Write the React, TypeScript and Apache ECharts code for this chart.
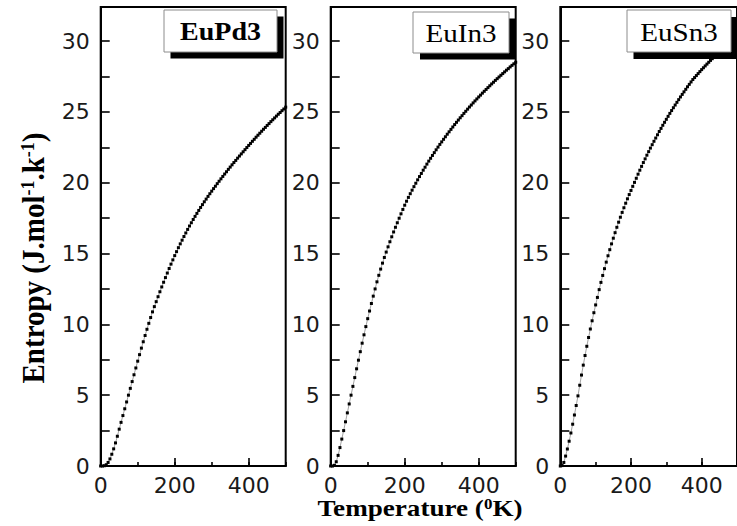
import React, { useEffect, useRef } from "react";
import * as echarts from "echarts";

const temperatures = [
  0, 5, 10, 15, 20, 25, 30, 35, 40, 45,
  50, 55, 60, 65, 70, 75, 80, 85, 90, 95,
  100, 105, 110, 115, 120, 125, 130, 135, 140, 145,
  150, 155, 160, 165, 170, 175, 180, 185, 190, 195,
  200, 205, 210, 215, 220, 225, 230, 235, 240, 245,
  250, 255, 260, 265, 270, 275, 280, 285, 290, 295,
  300, 305, 310, 315, 320, 325, 330, 335, 340, 345,
  350, 355, 360, 365, 370, 375, 380, 385, 390, 395,
  400, 405, 410, 415, 420, 425, 430, 435, 440, 445,
  450, 455, 460, 465, 470, 475, 480, 485, 490, 495,
  500,
];

const entropyEuPd3 = [
  0, 0, 0.02, 0.09, 0.25, 0.5, 0.83, 1.21, 1.63, 2.1,
  2.6, 3.08, 3.56, 4.04, 4.52, 5.0, 5.48, 5.96, 6.44, 6.92,
  7.4, 7.86, 8.32, 8.77, 9.21, 9.65, 10.07, 10.48, 10.88, 11.25,
  11.6, 11.95, 12.3, 12.64, 12.97, 13.3, 13.62, 13.94, 14.25, 14.55,
  14.85, 15.13, 15.41, 15.68, 15.94, 16.2, 16.45, 16.7, 16.94, 17.17,
  17.4, 17.62, 17.83, 18.04, 18.25, 18.45, 18.65, 18.84, 19.03, 19.22,
  19.4, 19.58, 19.75, 19.93, 20.1, 20.27, 20.44, 20.61, 20.77, 20.94,
  21.1, 21.26, 21.42, 21.57, 21.73, 21.88, 22.03, 22.18, 22.33, 22.48,
  22.63, 22.77, 22.92, 23.06, 23.21, 23.35, 23.49, 23.63, 23.77, 23.9,
  24.04, 24.17, 24.31, 24.44, 24.57, 24.7, 24.83, 24.95, 25.08, 25.2,
  25.33,
];

const entropyEuIn3 = [
  0, 0, 0.05, 0.3, 0.75, 1.3, 1.9, 2.5, 3.12, 3.75,
  4.38, 5.0, 5.62, 6.24, 6.86, 7.47, 8.07, 8.67, 9.26, 9.84,
  10.4, 10.94, 11.47, 11.99, 12.5, 13.0, 13.46, 13.9, 14.32, 14.72,
  15.1, 15.47, 15.83, 16.18, 16.52, 16.85, 17.17, 17.49, 17.8, 18.11,
  18.41, 18.69, 18.96, 19.22, 19.47, 19.72, 19.96, 20.2, 20.43, 20.65,
  20.88, 21.09, 21.31, 21.52, 21.72, 21.92, 22.12, 22.32, 22.51, 22.7,
  22.88, 23.06, 23.24, 23.42, 23.59, 23.76, 23.93, 24.1, 24.26, 24.42,
  24.58, 24.73, 24.89, 25.04, 25.19, 25.34, 25.48, 25.63, 25.77, 25.91,
  26.05, 26.18, 26.32, 26.45, 26.58, 26.71, 26.84, 26.97, 27.09, 27.22,
  27.34, 27.46, 27.58, 27.7, 27.82, 27.94, 28.05, 28.17, 28.28, 28.39,
  28.5,
];

const entropyEuSn3 = [
  0, 0.03, 0.25, 0.7, 1.2, 1.75, 2.33, 2.95, 3.6, 4.27,
  4.95, 5.7, 6.42, 7.12, 7.8, 8.45, 9.07, 9.67, 10.25, 10.82,
  11.37, 11.9, 12.45, 12.96, 13.45, 13.93, 14.39, 14.84, 15.27, 15.68,
  16.08, 16.47, 16.85, 17.21, 17.56, 17.9, 18.23, 18.55, 18.86, 19.16,
  19.45, 19.74, 20.02, 20.31, 20.6, 20.88, 21.15, 21.42, 21.68, 21.94,
  22.19, 22.44, 22.68, 22.92, 23.15, 23.38, 23.61, 23.83, 24.05, 24.26,
  24.47, 24.68, 24.89, 25.09, 25.29, 25.48, 25.67, 25.86, 26.05, 26.23,
  26.41, 26.59, 26.77, 26.94, 27.11, 27.28, 27.42, 27.56, 27.7, 27.84,
  27.98, 28.11, 28.24, 28.37, 28.5, 28.63, 28.75, 28.87, 28.99, 29.11,
  29.23, 29.35, 29.46, 29.57, 29.68, 29.79, 29.9, 30.0, 30.1, 30.2,
  30.3,
];

const compounds = ["EuPd3", "EuIn3", "EuSn3"];
const seriesValues = [entropyEuPd3, entropyEuIn3, entropyEuSn3];
const xMin = 0;
const xMax = 500;
const xMajorStep = 200;
const xMinorStep = 100;
const yMin = 0;
const yMax = 32.4;
const yTickStep = 2.5;
const yLabelStep = 5;
const yTitle = "Entropy (J.mol{sup|-1}.k{sup|-1})";
const xTitle = "Temperature ({sup|0}K)";

export default function App() {
  const ref = useRef<HTMLDivElement>(null);

  useEffect(() => {
    const chart = echarts.init(ref.current!, null, { renderer: "svg" });

    const lefts = [100.7, 330.7, 560.3];
    const gridTop = 7;
    const gridW = 185;
    const gridH = 459;

    const grids: any[] = [];
    const xAxes: any[] = [];
    const yAxes: any[] = [];
    const series: any[] = [];

    const labelFont = {
      fontFamily: "DejaVu Sans",
      fontSize: 22,
      color: "#1a1a1a",
    };

    lefts.forEach((left, i) => {
      grids.push({
        left,
        top: gridTop,
        width: gridW,
        height: gridH,
        show: true,
        borderColor: "#000",
        borderWidth: 2,
        backgroundColor: "transparent",
      });
      xAxes.push({
        type: "value",
        gridIndex: i,
        position: "bottom",
        min: xMin,
        max: xMax,
        interval: xMajorStep,
        axisLine: { show: true, onZero: false, lineStyle: { color: "#000", width: 2 } },
        axisTick: { show: true, inside: true, length: 8, lineStyle: { color: "#000", width: 1.6 } },
        axisLabel: { show: true, margin: 8, showMaxLabel: false, ...labelFont },
        splitLine: { show: false },
      });
      xAxes.push({
        type: "value",
        gridIndex: i,
        position: "bottom",
        min: xMin,
        max: xMax,
        interval: xMinorStep,
        axisLine: { show: false, onZero: false },
        axisTick: { show: true, inside: true, length: 4, lineStyle: { color: "#000", width: 1.6 } },
        axisLabel: { show: false },
        splitLine: { show: false },
      });
      yAxes.push({
        type: "value",
        gridIndex: i,
        position: "left",
        min: yMin,
        max: yMax,
        interval: yTickStep,
        axisLine: { show: true, onZero: false, lineStyle: { color: "#000", width: 2 } },
        axisTick: { show: true, inside: true, length: 9, lineStyle: { color: "#000", width: 1.6 } },
        axisLabel: {
          show: true,
          margin: 11,
          showMaxLabel: false,
          formatter: (v: number) => (Math.abs(v % yLabelStep) < 1e-9 ? String(v) : ""),
          ...labelFont,
        },
        splitLine: { show: false },
      });
      series.push({
        type: "line",
        name: compounds[i],
        xAxisIndex: 2 * i,
        yAxisIndex: i,
        data: temperatures.map((t, k) => [t, seriesValues[i][k]]),
        symbol: "rect",
        symbolSize: 3,
        showSymbol: true,
        itemStyle: { color: "#000" },
        lineStyle: { color: "#8a8a8a", width: 0.8 },
        clip: true,
        z: 3,
      });
    });

    const boxes = [
      { x: 164, y: 10, w: 113, h: 42, dx: 6.5, dy: 6.5, bold: true, size: 25 },
      { x: 413, y: 12, w: 96, h: 41, dx: 7, dy: 6.5, bold: false, size: 26 },
      { x: 627, y: 10, w: 104, h: 42, dx: 6.5, dy: 7, bold: false, size: 26 },
    ];

    const legendGraphics = boxes.map((b, i) => ({
      type: "group",
      z: 100,
      children: [
        {
          type: "rect",
          shape: { x: b.x + b.dx, y: b.y + b.dy, width: b.w, height: b.h },
          style: { fill: "#000" },
          z: 100,
        },
        {
          type: "rect",
          shape: { x: b.x, y: b.y, width: b.w, height: b.h },
          style: { fill: "#fff", stroke: "#8c8c8c", lineWidth: 1 },
          z: 101,
        },
        {
          type: "text",
          x: b.x + b.w / 2,
          y: b.y + b.h / 2 + 1,
          scaleX: 1.12,
          z: 102,
          style: {
            text: compounds[i],
            fontFamily: "Liberation Serif",
            fontSize: b.size,
            fontWeight: b.bold ? "bold" : "normal",
            fill: "#000",
            align: "center",
            verticalAlign: "middle",
          },
        },
      ],
    }));

    const option: any = {
      animation: false,
      backgroundColor: "#fff",
      grid: grids,
      xAxis: xAxes,
      yAxis: yAxes,
      series,
      graphic: [
        ...legendGraphics,
        {
          type: "text",
          x: 33,
          y: 258,
          rotation: Math.PI / 2,
          scaleY: 1.06,
          z: 100,
          style: {
            text: yTitle,
            fontFamily: "Liberation Serif",
            fontSize: 29,
            fontWeight: "bold",
            fill: "#000",
            align: "center",
            verticalAlign: "middle",
            rich: {
              sup: {
                fontFamily: "Liberation Serif",
                fontSize: 18,
                fontWeight: "bold",
                fill: "#000",
                verticalAlign: "top",
              },
            },
          },
        },
        {
          type: "text",
          x: 420,
          y: 508,
          scaleX: 1.13,
          z: 100,
          style: {
            text: xTitle,
            fontFamily: "Liberation Serif",
            fontSize: 24,
            fontWeight: "bold",
            fill: "#000",
            align: "center",
            verticalAlign: "middle",
            rich: {
              sup: {
                fontFamily: "Liberation Serif",
                fontSize: 15,
                fontWeight: "bold",
                fill: "#000",
                verticalAlign: "top",
              },
            },
          },
        },
      ],
    };

    chart.setOption(option);
    return () => chart.dispose();
  }, []);

  return (
    <div
      ref={ref}
      style={{ position: "absolute", left: 0, top: 0, width: 737, height: 526 }}
    />
  );
}
